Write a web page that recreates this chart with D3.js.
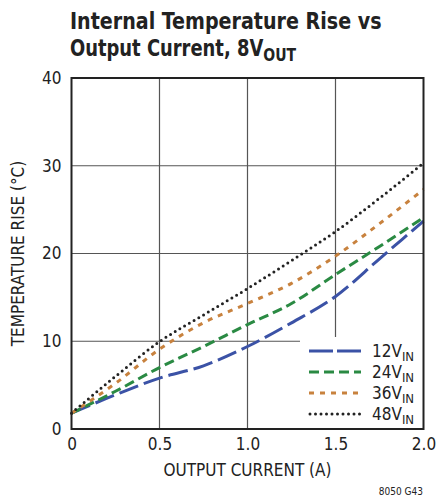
<html>
<head>
<script src="https://d3js.org/d3.v7.min.js"></script>
<style>
  body { margin:0; background:#fff; }
  text { font-family: "Liberation Sans Narrow", "DejaVu Sans Condensed", sans-serif; fill:#222; }
  .grid line { stroke:#555; stroke-width:1.2; }
</style>
</head>
<body>
<svg id="plot"></svg>
<script>
var W = 439, H = 501;
var Margin = {left: 71.5, right: 15.5, top: 78, bottom: 72};

// data
var current = [0, 0.25, 0.5, 0.75, 1.0, 1.25, 1.5, 1.75, 2.0];
var vin12 = [1.8, 3.9, 5.8, 7.2, 9.4, 12.1, 15.1, 19.4, 23.7];
var vin24 = [1.8, 4.3, 7.0, 9.4, 11.9, 14.3, 17.6, 20.8, 24.1];
var vin36 = [1.8, 5.2, 9.1, 12.1, 14.3, 16.6, 19.7, 23.4, 27.3];
var vin48 = [1.8, 6.0, 9.95, 13.0, 16.0, 19.2, 22.5, 26.3, 30.3];
var seriesNames = ["12", "24", "36", "48"];
var xTicks = [0, 0.5, 1.0, 1.5, 2.0];
var yTicks = [0, 10, 20, 30, 40];

var styles = [
  {color:"#3b52a6", dash:"20,6", width:3, cap:"butt"},
  {color:"#2a8a43", dash:"10,5", width:3, cap:"butt"},
  {color:"#c8823e", dash:"5,6", width:3, cap:"butt"},
  {color:"#222222", dash:"0,5.5", width:3, cap:"round"}
];
var allSeries = [vin12, vin24, vin36, vin48];

var svg = d3.select("#plot").attr("width", W).attr("height", H);

var x = d3.scaleLinear().domain([0, 2]).range([Margin.left, W - Margin.right]);
var y = d3.scaleLinear().domain([0, 40]).range([H - Margin.bottom, Margin.top]);

// title, squeezed to the condensed look of the original
var title = svg.append("g").attr("font-weight", "bold").attr("font-size", 23);
title.append("text").attr("transform", "translate(70,29) scale(0.923,1)")
  .text("Internal Temperature Rise vs");
var t2 = title.append("text").attr("transform", "translate(70,56) scale(0.866,1)");
t2.append("tspan").text("Output Current, 8V");
t2.append("tspan").attr("font-size", 18).attr("dy", 5).text("OUT");

// grid
var grid = svg.append("g").attr("class", "grid");
grid.selectAll(".gx").data(xTicks.slice(1, -1)).enter().append("line")
  .attr("x1", d => x(d)).attr("x2", d => x(d))
  .attr("y1", y(40)).attr("y2", y(0));
grid.selectAll(".gy").data(yTicks.slice(1, -1)).enter().append("line")
  .attr("x1", x(0)).attr("x2", x(2))
  .attr("y1", d => y(d)).attr("y2", d => y(d));

// curves
var line = d3.line().x((d, i) => x(current[i])).y(d => y(d)).curve(d3.curveMonotoneX);
svg.selectAll(".curve").data(allSeries).enter().append("path")
  .attr("d", d => line(d))
  .attr("fill", "none")
  .attr("stroke", (d, i) => styles[i].color)
  .attr("stroke-width", (d, i) => styles[i].width)
  .attr("stroke-dasharray", (d, i) => styles[i].dash)
  .attr("stroke-linecap", (d, i) => styles[i].cap);

// legend box (covers grid)
var lx = 300, ly = 337;
svg.append("rect").attr("x", lx).attr("y", ly)
  .attr("width", x(2) - lx).attr("height", y(0) - ly).attr("fill", "#fff");
var leg = svg.selectAll(".leg").data(seriesNames).enter().append("g")
  .attr("transform", (d, i) => "translate(0," + (351 + i * 21) + ")");
leg.append("line").attr("x1", (d, i) => i == 3 ? 310 : 309).attr("x2", 361)
  .attr("y1", 0).attr("y2", 0)
  .attr("stroke", (d, i) => styles[i].color)
  .attr("stroke-width", (d, i) => styles[i].width)
  .attr("stroke-dasharray", (d, i) => i == 0 ? "24,4" : styles[i].dash)
  .attr("stroke-linecap", (d, i) => styles[i].cap);
var lt = leg.append("text").attr("x", 372).attr("y", 6).attr("font-size", 17);
lt.append("tspan").text(d => d + "V");
lt.append("tspan").attr("font-size", 13).attr("dy", 4).text("IN");

// frame
svg.append("rect").attr("x", x(0)).attr("y", y(40))
  .attr("width", x(2) - x(0)).attr("height", y(0) - y(40))
  .attr("fill", "none").attr("stroke", "#222").attr("stroke-width", 2);

// axes
var xAxis = d3.axisBottom(x).tickValues(xTicks).tickSize(0).tickPadding(9)
  .tickFormat(d => d == 0 ? "0" : d3.format(".1f")(d));
var yAxis = d3.axisLeft(y).tickValues(yTicks).tickSize(0).tickPadding(10)
  .tickFormat(d3.format("d"));
var gx = svg.append("g").attr("transform", "translate(0," + y(0) + ")").call(xAxis);
var gy = svg.append("g").attr("transform", "translate(" + x(0) + ",0)").call(yAxis);
[gx, gy].forEach(g => {
  g.select(".domain").remove();
  g.selectAll("text").attr("font-size", 17)
    .attr("font-family", "'Liberation Sans Narrow', 'DejaVu Sans Condensed', sans-serif")
    .attr("fill", "#222");
});

// axis titles
svg.append("text").attr("x", (x(0) + x(2)) / 2).attr("y", 476)
  .attr("text-anchor", "middle").attr("font-size", 17).text("OUTPUT CURRENT (A)");
svg.append("text").attr("transform", "translate(24," + y(20) + ") rotate(-90)")
  .attr("text-anchor", "middle").attr("font-size", 17).text("TEMPERATURE RISE (°C)");
svg.append("text").attr("x", 423).attr("y", 495).attr("text-anchor", "end")
  .attr("font-size", 10).text("8050 G43");
</script>
</body>
</html>
